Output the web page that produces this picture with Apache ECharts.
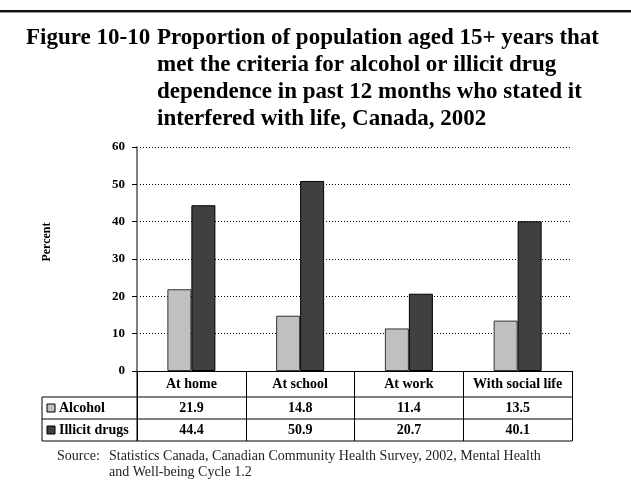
<!DOCTYPE html>
<html>
<head>
<meta charset="utf-8">
<script src="https://cdn.jsdelivr.net/npm/echarts@6/dist/echarts.min.js"></script>
<style>
html,body{margin:0;padding:0;background:#fff;}
#main{width:631px;height:487px;}
</style>
</head>
<body>
<div id="main"></div>
<script>
var categories = ['At home', 'At school', 'At work', 'With social life'];
var seriesNames = ['Alcohol', 'Illicit drugs'];
var alcohol = [21.9, 14.8, 11.4, 13.5];
var illicit = [44.4, 50.9, 20.7, 40.1];
var yTicks = [0, 10, 20, 30, 40, 50, 60];
var titleLines = [
  'Figure 10-10 Proportion of population aged 15+ years that',
  'met the criteria for alcohol or illicit drug',
  'dependence in past 12 months who stated it',
  'interfered with life, Canada, 2002'
];
var sourceLines = [
  'Source:',
  'Statistics Canada, Canadian Community Health Survey, 2002, Mental Health',
  'and Well-being Cycle 1.2'
];

var FONT = '"Liberation Serif", "Times New Roman", serif';
var colors = ['#c0c0c0', '#404040'];
var borders = ['#333333', '#000000'];

var chart = echarts.init(document.getElementById('main'), null, {renderer: 'canvas'});

var GRID = {left: 137, right: 59, top: 147, bottom: 116};

var option = {
  backgroundColor: '#ffffff',
  animation: false,
  grid: GRID,
  xAxis: {
    type: 'category',
    data: categories,
    axisLine: {show: true, lineStyle: {color: '#000', width: 1}},
    axisTick: {show: true, interval: 0, alignWithLabel: false, length: 70, lineStyle: {color: '#000', width: 1}},
    axisLabel: {interval: 0, fontFamily: FONT, fontWeight: 'bold', fontSize: 14, color: '#000', margin: 6},
    splitLine: {show: false}
  },
  yAxis: {
    type: 'value',
    min: yTicks[0],
    max: yTicks[yTicks.length - 1],
    interval: yTicks[1] - yTicks[0],
    axisLine: {show: true, lineStyle: {color: '#808080', width: 2}},
    axisTick: {show: true, length: 5, lineStyle: {color: '#000', width: 1}},
    axisLabel: {fontFamily: FONT, fontWeight: 'bold', fontSize: 13, color: '#000', margin: 12},
    splitLine: {show: true, lineStyle: {color: '#000', width: 1, type: [1, 2]}}
  },
  series: [
    {
      name: seriesNames[0], type: 'bar', data: alcohol, barWidth: 24, barGap: '0%',
      itemStyle: {color: colors[0], borderColor: borders[0], borderWidth: 1}
    },
    {
      name: seriesNames[1], type: 'bar', data: illicit, barWidth: 24, barGap: '0%',
      itemStyle: {color: colors[1], borderColor: borders[1], borderWidth: 1}
    }
  ]
};
chart.setOption(option);

var g = [];
// top rule
g.push({type: 'rect', shape: {x: 0, y: 10, width: 631, height: 2}, style: {fill: '#111'}, silent: true});
g.push({type: 'rect', shape: {x: 0, y: 12, width: 631, height: 1}, style: {fill: '#999'}, silent: true});

// title
var TFONT = 'bold 23px ' + FONT;
var titleBase = [50, 77, 104, 131];
titleLines.forEach(function (t, i) {
  if (i === 0) {
    g.push({type: 'text', x: 26, y: titleBase[0], silent: true,
      style: {text: 'Figure 10-10', font: TFONT, fill: '#000', verticalAlign: 'bottom'}});
    g.push({type: 'text', x: 157, y: titleBase[0], silent: true,
      style: {text: t.replace('Figure 10-10 ', ''), font: TFONT, fill: '#000', verticalAlign: 'bottom'}});
  } else {
    g.push({type: 'text', x: 157, y: titleBase[i], silent: true,
      style: {text: t, font: TFONT, fill: '#000', verticalAlign: 'bottom'}});
  }
});

// y axis name
g.push({type: 'text', x: 47, y: 242, rotation: Math.PI / 2, silent: true,
  style: {text: 'Percent', font: 'bold 12px ' + FONT, fill: '#000', align: 'center', verticalAlign: 'middle'}});

// table geometry from axis
var zeroY = chart.convertToPixel({yAxisIndex: 0}, 0);
var leftX = GRID.left;
var rightX = 631 - GRID.right;
var tableLeft = 42;
var rowTop = [zeroY + 26, zeroY + 48];
var rowH = 22;
var tableBottom = rowTop[1] + rowH;

g.push({type: 'line', shape: {x1: leftX, y1: zeroY, x2: leftX, y2: tableBottom}, style: {stroke: '#808080', lineWidth: 2}, silent: true});
[rowTop[0], rowTop[1], tableBottom].forEach(function (y) {
  g.push({type: 'line', shape: {x1: tableLeft, y1: y, x2: rightX, y2: y}, style: {stroke: '#000', lineWidth: 1}, silent: true});
});
g.push({type: 'line', shape: {x1: tableLeft, y1: rowTop[0], x2: tableLeft, y2: tableBottom}, style: {stroke: '#000', lineWidth: 1}, silent: true});

var rows = [alcohol, illicit];
rows.forEach(function (vals, r) {
  var cy = rowTop[r] + rowH / 2;
  g.push({type: 'rect', shape: {x: 47, y: cy - 4, width: 8, height: 8},
    style: {fill: colors[r], stroke: '#000', lineWidth: 1}, silent: true});
  g.push({type: 'text', x: 59, y: cy, silent: true,
    style: {text: seriesNames[r], font: 'bold 14px ' + FONT, fill: '#000', verticalAlign: 'middle'}});
  vals.forEach(function (v, i) {
    var cx = chart.convertToPixel({xAxisIndex: 0}, categories[i]);
    g.push({type: 'text', x: cx, y: cy, silent: true,
      style: {text: v.toFixed(1), font: 'bold 14px ' + FONT, fill: '#000', align: 'center', verticalAlign: 'middle'}});
  });
});

// source
var SFONT = '14px ' + FONT;
g.push({type: 'text', x: 57, y: 456, silent: true,
  style: {text: sourceLines[0], font: SFONT, fill: '#222', verticalAlign: 'middle'}});
g.push({type: 'text', x: 109, y: 456, silent: true,
  style: {text: sourceLines[1], font: SFONT, fill: '#222', verticalAlign: 'middle'}});
g.push({type: 'text', x: 109, y: 472, silent: true,
  style: {text: sourceLines[2], font: SFONT, fill: '#222', verticalAlign: 'middle'}});

chart.setOption({graphic: g});
</script>
</body>
</html>
